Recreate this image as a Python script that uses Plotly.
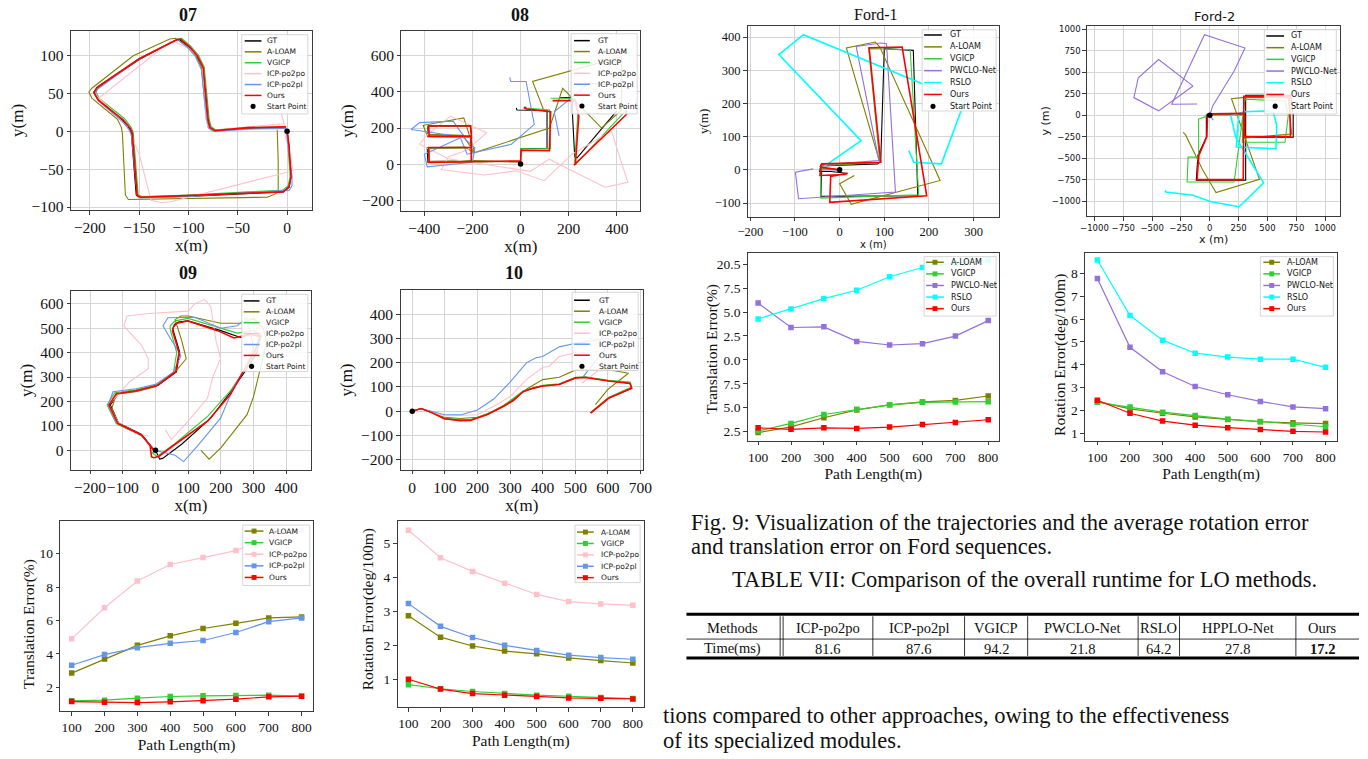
import plotly.graph_objects as go

W, H = 1368, 759
SERIF = "Liberation Serif"
SANS = "DejaVu Sans"

# ------------------------------------------------------------------ data
path_len = [100, 200, 300, 400, 500, 600, 700, 800]

# KITTI average errors
kitti_te_aloam = [2.85, 3.70, 4.51, 5.08, 5.52, 5.83, 6.15, 6.21]
kitti_te_vgicp = [1.19, 1.23, 1.35, 1.45, 1.49, 1.51, 1.53, 1.47]
kitti_te_po2po = [4.90, 6.76, 8.36, 9.35, 9.76, 10.18, 10.99, 11.42]
kitti_te_po2pl = [3.32, 3.96, 4.37, 4.63, 4.80, 5.28, 5.93, 6.15]
kitti_te_ours = [1.15, 1.11, 1.09, 1.13, 1.19, 1.29, 1.43, 1.47]

kitti_re_aloam = [2.87, 2.24, 1.98, 1.83, 1.75, 1.63, 1.55, 1.48]
kitti_re_vgicp = [0.84, 0.72, 0.64, 0.58, 0.53, 0.50, 0.46, 0.43]
kitti_re_po2po = [5.39, 4.58, 4.18, 3.83, 3.50, 3.29, 3.22, 3.18]
kitti_re_po2pl = [3.23, 2.56, 2.23, 2.00, 1.85, 1.71, 1.64, 1.59]
kitti_re_ours = [1.00, 0.71, 0.58, 0.53, 0.49, 0.45, 0.44, 0.42]

# Ford average errors
ford_te_aloam = [2.40, 3.00, 3.95, 4.77, 5.30, 5.60, 5.76, 6.22]
ford_te_vgicp = [2.56, 3.36, 4.29, 4.83, 5.30, 5.56, 5.60, 5.63]
ford_te_pwclo = [15.93, 13.38, 13.45, 11.93, 11.55, 11.69, 12.48, 14.10]
ford_te_rslo = [14.28, 15.31, 16.40, 17.27, 18.68, 19.65, 20.10, 20.40]
ford_te_ours = [2.90, 2.74, 2.90, 2.84, 2.98, 3.25, 3.46, 3.74]
ford_te_tickvals = [2.5, 5.0, 7.5, 10.0, 12.5, 15.0, 17.5, 20.0]
ford_te_ticktext = ["2.5", "5.0", "7.5", "0.0", "2.5", "5.0", "7.5", "20.5"]

ford_re_aloam = [2.40, 2.07, 1.88, 1.72, 1.61, 1.51, 1.46, 1.43]
ford_re_vgicp = [2.36, 2.16, 1.93, 1.78, 1.62, 1.52, 1.39, 1.29]
ford_re_pwclo = [7.78, 4.77, 3.70, 3.05, 2.69, 2.40, 2.16, 2.08]
ford_re_rslo = [8.59, 6.16, 5.08, 4.51, 4.34, 4.25, 4.25, 3.89]
ford_re_ours = [2.45, 1.88, 1.54, 1.36, 1.25, 1.17, 1.09, 1.06]

# trajectories (x, y) in metres
start_point = [(0, 0)]

seq07_gt = [(0, 0), (-2, 5), (-40, 4), (-74, 1), (-79, 6), (-81, 15), (-86, 84), (-92, 100), (-100, 112),
            (-109, 121), (-112, 121), (-150, 95), (-192, 58), (-196, 52), (-192, 42), (-167, 15), (-160, 4),
            (-158, -2), (-153, -84), (-150, -87), (-100, -86), (-40, -82), (-4, -80), (2, -74), (4, -60),
            (2, -20), (0, 0)]
seq07_aloam = [(-3, 6), (-40, 5), (-76, 1), (-80, 5), (-82, 16), (-87, 85), (-93, 101), (-102, 113),
               (-113, 123), (-119, 122), (-156, 100), (-198, 57), (-201, 52), (-198, 44), (-172, 16),
               (-168, 5), (-167, -3), (-164, -84), (-161, -90), (-100, -89), (-20, -87), (-11, -82),
               (-9, -78), (-9, -40), (-10, 2)]
seq07_vgicp = [(-1, 5), (-40, 5), (-72, 2), (-77, 6), (-79, 16), (-84, 85), (-90, 101), (-98, 113),
               (-107, 123), (-111, 122), (-149, 97), (-191, 60), (-194, 52), (-190, 43), (-165, 17),
               (-158, 5), (-156, -2), (-151, -84), (-147, -86), (-100, -84), (-40, -80), (-5, -78),
               (1, -72), (3, -60), (1, -20), (0, 3)]
seq07_po2po = [(-6, 24), (-3, 10), (-40, 6), (-76, 1), (-80, 5), (-82, 16), (-86, 85), (-90, 98),
               (-100, 110), (-113, 118), (-119, 118), (-191, 44), (-186, 38), (-162, 6), (-150, -30),
               (-138, -91), (-128, -94), (-118, -93), (6, -52), (5, -45), (2, -25), (-2, -5), (-3, 10)]
seq07_po2pl = [(-1, 4), (-40, 3), (-74, 0), (-79, 4), (-81, 14), (-87, 82), (-93, 99), (-101, 111),
               (-110, 120), (-114, 120), (-152, 94), (-192, 56), (-195, 49), (-191, 40), (-167, 13),
               (-160, 2), (-158, -4), (-152, -84), (-149, -88), (-100, -86), (-40, -81), (2, -78),
               (5, -72), (5, -60), (1, -20), (-1, 2)]
seq07_ours = [(-1, 6), (-40, 5), (-73, 1), (-78, 5), (-80, 15), (-85, 84), (-91, 100), (-99, 112),
              (-108, 122), (-112, 121), (-150, 96), (-193, 58), (-196, 51), (-191, 41), (-166, 15),
              (-159, 4), (-157, -2), (-152, -85), (-148, -87), (-100, -85), (-40, -82), (-4, -80),
              (2, -73), (4, -60), (2, -20), (0, 3)]

seq08_gt = [(-18, 312), (-15, 300), (110, 297), (110, 88), (2, 85), (0, 15), (-200, 14), (-385, 10),
            (-388, 90), (-208, 92), (-208, 150), (-385, 152), (-385, 210), (-208, 212), (-205, 170), None,
            (160, 368), (215, 370), (215, 297), (225, 40), (235, 35), (400, 295)]
seq08_aloam = [(0, 10), (-190, 20), (-380, 15), (-385, 90), (-230, 95), (-190, 60), (-240, 160),
               (-390, 165), (-405, 215), (-236, 256), (-190, 64), (120, 200), (175, 420), (337, 200),
               (420, 300), (419, 595), (50, 458), (98, 293), (110, 300)]
seq08_vgicp = [(20, 318), (25, 310), (120, 300), (125, 85), (0, 85), (0, 15), (-200, 14), (-380, 10),
               (-380, 88), (-205, 90), (-205, 150), (-380, 152), (-382, 210), (-208, 210), None,
               (125, 365), (225, 365), (238, 275), (225, 10), (230, 0), (430, 285), (440, 300)]
seq08_po2po = [(-420, 110), (-390, 160), (-291, 265), (-141, 174), (-220, 80), (-300, 40), (-330, -30),
               (-150, -60), (-18, -37), (98, -92), (214, 55), (378, 183), (400, 90), (446, -101),
               (351, -128), (119, 27), (40, -40), (-100, -10), (-300, 30), (-420, 110)]
seq08_po2pl = [(-45, 480), (-41, 458), (23, 458), (57, 220), (-38, 110), (-222, 55), (-250, 146),
               (-400, 55), (-388, -15), (-200, 10), (-190, 90), (-240, 150), (-455, 192), (-420, 230),
               (-280, 238), (-250, 180), (-230, 150), None, (160, 156), (140, 290), (228, 385),
               (283, 449), (364, 440)]
seq08_ours = [(20, 318), (16, 311), (25, 305), (125, 290), (120, 75), (2, 77), (0, 18), (-200, 14),
              (-380, 9), (-382, 92), (-205, 92), (-205, 155), (-380, 155), (-382, 212), (-208, 212),
              (-205, 170), (-205, 15), None, (133, 352), (228, 352), (242, 265), (228, 0), (222, -5),
              (440, 275), (440, 300)]

seq09_gt = [(0, 0), (13, -36), (22, -33), (80, 25), (169, 132), (230, 240), (280, 334), (310, 400),
            (320, 469), (300, 478), (260, 462), (200, 490), (99, 530), (70, 525), (58, 516), (53, 496),
            (74, 402), (64, 321), (8, 267), (-60, 245), (-113, 233), (-138, 186), (-113, 112), (-42, 65),
            (-2, -3)]
seq09_aloam = [(139, 0), (164, -36), (200, 10), (280, 146), (300, 220), (340, 442), (330, 500),
               (300, 540), (260, 520), (200, 520), (100, 550), (78, 550), (60, 535), (80, 450),
               (94, 375), (60, 320), (0, 260), (-60, 240), (-120, 230), (-133, 173), (-113, 105),
               (-42, 60), (-2, -2)]
seq09_vgicp = [(0, 0), (-10, -10), (5, -25), (60, 28), (160, 140), (230, 245), (280, 345), (310, 410),
               (325, 470), (300, 490), (250, 480), (200, 500), (100, 540), (60, 530), (45, 510),
               (45, 495), (65, 400), (55, 320), (0, 265), (-60, 248), (-125, 236), (-148, 185),
               (-120, 110), (-45, 63), (-3, 2)]
seq09_po2po = [(30, 85), (48, 44), (100, 120), (159, 213), (175, 300), (199, 375), (185, 450),
               (179, 510), (169, 590), (150, 617), (120, 600), (100, 570), (-20, 560), (-87, 550),
               (-97, 510), (-42, 429), (-22, 375), (-22, 334), (-80, 280), (-143, 186), (-113, 112),
               (-60, 70), (-22, 58), None, (270, 460), (320, 480), (330, 490)]
seq09_po2pl = [(0, 0), (60, -20), (86, -46), (130, 20), (199, 132), (240, 260), (280, 350), (300, 420),
               (279, 543), (250, 510), (200, 500), (120, 545), (38, 543), (23, 510), (40, 470),
               (78, 388), (55, 320), (0, 270), (-60, 252), (-130, 240), (-145, 185), (-120, 115),
               (-45, 65), (-3, 0)]
seq09_ours = [(-17, 24), (-12, -27), (-5, -30), (10, -25), (60, 25), (160, 120), (230, 230), (275, 340),
              (305, 410), (320, 465), (290, 475), (240, 460), (190, 490), (99, 530), (65, 520),
              (55, 505), (52, 490), (72, 400), (62, 322), (5, 265), (-60, 243), (-120, 232),
              (-142, 185), (-115, 110), (-42, 62), (-5, 0)]

seq10_gt = [(0, 0), (27, 11), (60, -5), (98, -30), (148, -38), (178, -37), (229, -14), (279, 20),
            (310, 45), (340, 81), (370, 95), (400, 105), (451, 111), (480, 125), (501, 138), (531, 140),
            (602, 125), (668, 115), (673, 95), (602, 54), (547, -7)]
seq10_aloam = [(0, 0), (27, 11), (98, -25), (148, -30), (200, -25), (250, 0), (300, 40), (350, 90),
               (400, 130), (451, 140), (501, 170), (600, 172), (663, 156), (600, 90), (562, 27)]
seq10_vgicp = [(0, 0), (27, 11), (98, -28), (148, -35), (178, -35), (229, -12), (279, 22), (340, 83),
               (400, 107), (451, 113), (501, 140), (531, 142), (602, 127), (668, 120), (673, 100),
               (602, 56), (547, -5)]
seq10_po2po = [(0, 0), (27, 11), (100, -20), (200, -15), (250, 20), (300, 60), (350, 130), (400, 180),
               (420, 185), (451, 225), (501, 240), (600, 250), (621, 262), (600, 200), (521, 115)]
seq10_po2pl = [(0, 0), (27, 11), (100, -15), (150, -15), (200, 5), (250, 50), (300, 120), (351, 200),
               (380, 220), (400, 225), (451, 265), (501, 280), (600, 300), (610, 290), (521, 136)]
seq10_ours = [(0, 0), (27, 11), (60, -6), (98, -31), (148, -39), (178, -38), (229, -15), (279, 19),
              (310, 44), (340, 80), (370, 94), (400, 104), (451, 110), (480, 124), (501, 137),
              (531, 139), (602, 124), (668, 114), (673, 94), (602, 53), (547, -8)]

ford1_gt = [(0, 0), (-40, 5), (-42, -80), (175, -78), (165, 360), (100, 365), (92, 25), (85, 18),
            (-42, 12), (-45, -5), (-20, -5), (15, -10)]
ford1_aloam = [(33, -17), (0, -42), (26, -104), (225, -32), (90, 370), (80, 385), (15, 367), (90, 22),
               (-40, 12), (-42, 0)]
ford1_vgicp = [(0, 0), (-42, 5), (-42, -85), (177, -75), (158, 362), (65, 365), (90, 22), (-42, 15),
               (-42, 5)]
ford1_pwclo = [(-59, 3), (-99, -7), (-92, -87), (125, -67), (105, 380), (92, 382), (37, 372), (88, 28),
               (-40, 15), (-45, 0), (0, 0)]
ford1_rslo = [(-37, 8), (48, 88), (-136, 347), (-100, 385), (-81, 407), (280, 207), (228, 18),
              (166, 23), (155, 58)]
ford1_ours = [(0, 0), (-42, 8), (-44, -17), (12, -14), (18, -10), (-20, -20), (-22, -98), (195, -78),
              (140, 370), (66, 368), (92, 23), (-40, 18), (-44, 8)]

ford2_gt = [(0, 0), (-30, 0), (-30, -258), (-103, -469), (-117, -758), (311, -758), (311, 231),
            (700, 231), (723, 0), (723, -258), (311, -258), (311, 10), (0, 10)]
ford2_aloam = [(-231, -200), (-210, -230), (-60, -642), (54, -900), (430, -746), (188, 192),
               (282, 204), (681, 204), (709, -219), (282, -269)]
ford2_vgicp = [(0, 0), (-97, -46), (-97, -488), (-188, -488), (-197, -777), (211, -777), (305, 185),
               (652, 165), (681, 0), (652, -315), (282, -315), (290, 0), (0, 0)]
ford2_pwclo = [(30, -60), (0, 0), (26, 110), (211, 512), (305, 781), (-46, 935), (-330, 127),
               (-160, 135), (-110, 130), None, (-145, 338), (-444, 646), (-620, 435), (-650, 260),
               (-658, 204), (-444, 50), (-145, 338)]
ford2_rslo = [(-387, -873), (-380, -895), (-145, -931), (11, -1008), (254, -1065), (467, -788),
              (225, -258), (182, -8), (300, 40), (500, 50), (553, 20), (581, -123), (573, -392),
              (300, -380), (230, -370), (250, 0)]
ford2_ours = [(10, 5), (-20, 8), (-25, -250), (-95, -470), (-110, -750), (290, -750), (295, 220),
              (690, 215), (700, -250), (300, -250), (300, 20), (10, 15)]

# runtime table
table_methods = ["ICP-po2po", "ICP-po2pl", "VGICP", "PWCLO-Net", "RSLO", "HPPLO-Net", "Ours"]
table_times = [81.6, 87.6, 94.2, 21.8, 64.2, 27.8, 17.2]

# ------------------------------------------------------------------ styles
COL = {"GT": "#000000", "A-LOAM": "#808000", "VGICP": "#32CD32", "ICP-po2po": "#FFC0CB",
       "ICP-po2pl": "#6495ED", "Ours": "#FF0000", "PWCLO-Net": "#9370DB", "RSLO": "#00FFFF"}


def X(px):
    return px / W


def Y(py):
    return 1 - py / H


fig = go.Figure()
shapes = []
annotations = []
layout_axes = {}


def ax_names(n):
    s = "" if n == 1 else str(n)
    return "x" + s, "y" + s, "xaxis" + s, "yaxis" + s


def make_axes(n, box, xr, yr, xt, yt, tickfont, grid, xtitle, ytitle, xtfont, ytfont,
              xstand=2, ystand=2, yticktext=None):
    xa, ya, xk, yk = ax_names(n)
    x0, x1, y0, y1 = box
    common = dict(showline=True, mirror=True, linecolor="#3a3a3a", linewidth=1, ticks="outside",
                  ticklen=3.5, tickwidth=0.8, tickcolor="#3a3a3a", zeroline=False, tickangle=0,
                  showgrid=grid, gridcolor="#d4d4d4", gridwidth=0.8, tickfont=tickfont,
                  fixedrange=True)
    layout_axes[xk] = dict(common, domain=[X(x0), X(x1)], anchor=ya, range=xr, tickmode="array",
                           tickvals=xt, title=dict(text=xtitle, font=xtfont, standoff=xstand))
    ydict = dict(common, domain=[Y(y1), Y(y0)], anchor=xa, range=yr, tickmode="array",
                 tickvals=yt, title=dict(text=ytitle, font=ytfont, standoff=ystand))
    if yticktext is not None:
        ydict["ticktext"] = yticktext
    layout_axes[yk] = ydict


def add_path(n, pts, color, width=1.1):
    xa, ya, _, _ = ax_names(n)
    xs = [p[0] if p is not None else None for p in pts]
    ys = [p[1] if p is not None else None for p in pts]
    fig.add_trace(go.Scatter(x=xs, y=ys, mode="lines", xaxis=xa, yaxis=ya, showlegend=False,
                             line=dict(color=color, width=width), hoverinfo="skip"))


def add_start(n):
    xa, ya, _, _ = ax_names(n)
    fig.add_trace(go.Scatter(x=[p[0] for p in start_point], y=[p[1] for p in start_point],
                             mode="markers", xaxis=xa, yaxis=ya, showlegend=False,
                             marker=dict(color="black", size=5.5), hoverinfo="skip"))


def add_err(n, ys, color):
    xa, ya, _, _ = ax_names(n)
    fig.add_trace(go.Scatter(x=path_len, y=ys, mode="lines+markers", xaxis=xa, yaxis=ya,
                             showlegend=False, line=dict(color=color, width=1.2),
                             marker=dict(color=color, size=5.5, symbol="square"), hoverinfo="skip"))


def add_legend(box, y_first, step, entries, sw, tx, fsize):
    x0, x1, y0, y1 = box
    shapes.append(dict(type="rect", xref="paper", yref="paper", x0=X(x0), x1=X(x1), y0=Y(y1), y1=Y(y0),
                       line=dict(color="#cccccc", width=0.8), fillcolor="rgba(255,255,255,0.85)",
                       layer="above"))
    for i, (name, kind) in enumerate(entries):
        yy = y_first + i * step
        color = COL.get(name, "#000000")
        if kind in ("line", "linesq"):
            shapes.append(dict(type="line", xref="paper", yref="paper", x0=X(sw[0]), x1=X(sw[1]),
                               y0=Y(yy), y1=Y(yy), line=dict(color=color, width=1.5), layer="above"))
        if kind == "linesq":
            cx = (sw[0] + sw[1]) / 2
            shapes.append(dict(type="rect", xref="paper", yref="paper", x0=X(cx - 2.5), x1=X(cx + 2.5),
                               y0=Y(yy + 2.5), y1=Y(yy - 2.5), line=dict(color=color, width=0),
                               fillcolor=color, layer="above"))
        if kind == "dot":
            cx = (sw[0] + sw[1]) / 2
            shapes.append(dict(type="circle", xref="paper", yref="paper", x0=X(cx - 2.6), x1=X(cx + 2.6),
                               y0=Y(yy + 2.6), y1=Y(yy - 2.6), line=dict(color="black", width=0),
                               fillcolor="black", layer="above"))
        annotations.append(dict(text=name, x=X(tx), y=Y(yy), xref="paper", yref="paper",
                                xanchor="left", yanchor="middle", showarrow=False,
                                font=dict(family=SANS, size=fsize, color="#111111")))


def title(text, cx, cy, font, angle=0):
    annotations.append(dict(text=text, x=X(cx), y=Y(cy), xref="paper", yref="paper", xanchor="center",
                            yanchor="middle", showarrow=False, font=font, textangle=angle))


tf_k = dict(family=SERIF, size=15.5, color="#111111")
lab_k = dict(family=SERIF, size=17, color="#111111")
tf_e = dict(family=SERIF, size=13.5, color="#111111")
lab_e = dict(family=SERIF, size=15.5, color="#111111")
ttl_k = dict(family=SERIF, size=18, color="#111111")

# ------------------------------------------------------------------ KITTI trajectories
kitti_sets = [
    (1, (62, 306, 29, 210), [-219, 25], [-104, 133], [-200, -150, -100, -50, 0], [-100, -50, 0, 50, 100],
     [seq07_gt, seq07_aloam, seq07_vgicp, seq07_po2po, seq07_po2pl, seq07_ours], "<b>07</b>", (180, 13)),
    (2, (397, 639, 29, 211), [-495, 497], [-260, 739], [-400, -200, 0, 200, 400], [-200, 0, 200, 400, 600],
     [seq08_gt, seq08_aloam, seq08_vgicp, seq08_po2po, seq08_po2pl, seq08_ours], "<b>08</b>", (517, 13)),
    (3, (62, 305, 292, 472), [-258, 475], [-79, 651], [-200, -100, 0, 100, 200, 300, 400],
     [0, 100, 200, 300, 400, 500, 600],
     [seq09_gt, seq09_aloam, seq09_vgicp, seq09_po2po, seq09_po2pl, seq09_ours], "<b>09</b>", (180, 274)),
    (4, (396, 642, 291, 472), [-36, 708], [-241, 498], [0, 100, 200, 300, 400, 500, 600, 700],
     [-200, -100, 0, 100, 200, 300, 400],
     [seq10_gt, seq10_aloam, seq10_vgicp, seq10_po2po, seq10_po2pl, seq10_ours], "<b>10</b>", (511, 274)),
]
kitti_names = ["GT", "A-LOAM", "VGICP", "ICP-po2po", "ICP-po2pl", "Ours"]
for n, box, xr, yr, xt, yt, paths, ttl, tpos in kitti_sets:
    make_axes(n, box, xr, yr, xt, yt, tf_k, True, "x(m)", "y(m)", lab_k, lab_k, 3, 3)
    for name, pts in zip(kitti_names, paths):
        add_path(n, pts, COL[name], 1.6 if name == "Ours" else 1.1)
    add_start(n)
    title(ttl, tpos[0], tpos[1], ttl_k)

kitti_leg = [(n, "line") for n in kitti_names] + [("Start Point", "dot")]
add_legend((235, 302, 33, 113), 39.3, 11, kitti_leg, (238, 255), 259, 7.5)
add_legend((569, 636, 32, 113), 39.0, 11, kitti_leg, (572, 588), 594, 7.5)
add_legend((235, 302, 295, 373), 301.7, 11, kitti_leg, (237, 253), 258, 7.5)
add_legend((570, 637, 293, 372), 301.0, 11.1, kitti_leg, (572, 588), 595, 7.5)

# ------------------------------------------------------------------ KITTI errors
make_axes(5, (51, 307, 524, 716), [65.3, 834], [0.56, 11.94], path_len, [2, 4, 6, 8, 10], tf_e, False,
          "Path Length(m)", "", lab_e, lab_e, 5, 3)
title("Translation Error(%)", 19, 628, lab_e, -90)
for name, ys in zip(["A-LOAM", "VGICP", "ICP-po2po", "ICP-po2pl", "Ours"],
                    [kitti_te_aloam, kitti_te_vgicp, kitti_te_po2po, kitti_te_po2pl, kitti_te_ours]):
    add_err(5, ys, COL[name])
make_axes(6, (393, 643, 524, 712), [66, 835], [0.17, 5.66], path_len, [1, 2, 3, 4, 5], tf_e, False,
          "Path Length(m)", "", lab_e, lab_e, 5, 3)
title("Rotation Error(deg/100m)", 363, 613, lab_e, -90)
for name, ys in zip(["A-LOAM", "VGICP", "ICP-po2po", "ICP-po2pl", "Ours"],
                    [kitti_re_aloam, kitti_re_vgicp, kitti_re_po2po, kitti_re_po2pl, kitti_re_ours]):
    add_err(6, ys, COL[name])
kerr_leg = [(n, "linesq") for n in ["A-LOAM", "VGICP", "ICP-po2po", "ICP-po2pl", "Ours"]]
add_legend((236, 304, 528, 589), 534, 11.7, kerr_leg, (238, 257), 261, 7.5)
add_legend((573, 639, 528, 586), 535, 11.5, kerr_leg, (575, 592), 597, 7.5)

# ------------------------------------------------------------------ Ford trajectories
ford_names = ["GT", "A-LOAM", "VGICP", "PWCLO-Net", "RSLO", "Ours"]
make_axes(7, (748, 1003, 24, 217), [-206, 357], [-142, 434], [-200, -100, 0, 100, 200, 300],
          [-100, 0, 100, 200, 300, 400], dict(family=SERIF, size=12.5, color="#111111"), True,
          "x (m)", "y(m)", dict(family=SANS, size=10, color="#111111"),
          dict(family=SERIF, size=13, color="#111111"), 0, 3)
for name, pts in zip(ford_names, [ford1_gt, ford1_aloam, ford1_vgicp, ford1_pwclo, ford1_rslo, ford1_ours]):
    add_path(7, pts, COL[name], 1.6 if name in ("Ours", "RSLO") else 1.1)
add_start(7)
title("Ford-1", 878, 13, dict(family=SERIF, size=16, color="#111111"))

f2t = [-1000, -750, -500, -250, 0, 250, 500, 750, 1000]
make_axes(8, (1092, 1349, 24, 216), [-1066, 1131], [-1173, 1039], f2t, f2t,
          dict(family=SANS, size=8.5, color="#111111"), True, "x (m)", "y (m)",
          dict(family=SANS, size=11, color="#111111"), dict(family=SANS, size=11, color="#111111"), 2, 0)
for name, pts in zip(ford_names, [ford2_gt, ford2_aloam, ford2_vgicp, ford2_pwclo, ford2_rslo, ford2_ours]):
    add_path(8, pts, COL[name], 1.6 if name in ("Ours", "RSLO") else 1.1)
add_start(8)
title("Ford-2", 1221, 15, dict(family=SANS, size=13, color="#111111"))

ford_leg = [(n, "line") for n in ford_names] + [("Start Point", "dot")]
add_legend((925, 1000, 28, 110), 33.3, 12, ford_leg, (927, 945), 951, 8)
add_legend((1272, 1345, 28, 113), 34.3, 11.8, ford_leg, (1274, 1292), 1297, 8)

# ------------------------------------------------------------------ Ford errors
make_axes(9, (748, 1003, 253, 443), [68, 833], [1.53, 21.2], path_len, ford_te_tickvals, tf_e, False,
          "Path Length(m)", "", lab_e, lab_e, 4, 3, yticktext=ford_te_ticktext)
title("Translation Error(%)", 712, 350, lab_e, -90)
for name, ys in zip(["A-LOAM", "VGICP", "PWCLO-Net", "RSLO", "Ours"],
                    [ford_te_aloam, ford_te_vgicp, ford_te_pwclo, ford_te_rslo, ford_te_ours]):
    add_err(9, ys, COL[name])
make_axes(10, (1090, 1346, 253, 443), [61.6, 836], [0.67, 8.91], path_len, [1, 2, 3, 4, 5, 6, 7, 8], tf_e,
          False, "Path Length(m)", "", lab_e, lab_e, 4, 3)
title("Rotation Error(deg/100m)", 1064, 356, lab_e, -90)
for name, ys in zip(["A-LOAM", "VGICP", "PWCLO-Net", "RSLO", "Ours"],
                    [ford_re_aloam, ford_re_vgicp, ford_re_pwclo, ford_re_rslo, ford_re_ours]):
    add_err(10, ys, COL[name])
ferr_leg = [(n, "linesq") for n in ["A-LOAM", "VGICP", "PWCLO-Net", "RSLO", "Ours"]]
add_legend((927, 1000, 257, 317), 262.7, 11.7, ferr_leg, (929, 947), 952, 8)
add_legend((1268, 1342, 257, 317), 262.7, 11.7, ferr_leg, (1271, 1288), 1293, 8)

# ------------------------------------------------------------------ caption, table, body text
body = dict(family=SERIF, size=22.5, color="#111111")
annotations.append(dict(text="Fig. 9: Visualization of the trajectories and the average rotation error",
                        x=X(689), y=Y(525), xref="paper", yref="paper", xanchor="left", yanchor="middle",
                        showarrow=False, font=body))
annotations.append(dict(text="and translation error on Ford sequences.", x=X(689), y=Y(550), xref="paper",
                        yref="paper", xanchor="left", yanchor="middle", showarrow=False, font=body))
annotations.append(dict(text="TABLE VII: Comparison of the overall runtime for LO methods.", x=X(1029),
                        y=Y(583), xref="paper", yref="paper", xanchor="center", yanchor="middle",
                        showarrow=False, font=body))
annotations.append(dict(text="tions compared to other approaches, owing to the effectiveness", x=X(660),
                        y=Y(720), xref="paper", yref="paper", xanchor="left", yanchor="middle",
                        showarrow=False, font=body))
annotations.append(dict(text="of its specialized modules.", x=X(660), y=Y(745), xref="paper", yref="paper",
                        xanchor="left", yanchor="middle", showarrow=False, font=body))

tbl_font = dict(family=SERIF, size=14.5, color="#111111")
col_edges = [686, 781, 875, 968, 1032, 1144, 1186, 1304, 1368]
for yv, wv in [(618, 3), (643, 0.8), (662, 3)]:
    shapes.append(dict(type="line", xref="paper", yref="paper", x0=X(686), x1=X(1368), y0=Y(yv), y1=Y(yv),
                       line=dict(color="black", width=wv)))
for xe in col_edges[1:-1]:
    shapes.append(dict(type="line", xref="paper", yref="paper", x0=X(xe), x1=X(xe), y0=Y(620), y1=Y(660),
                       line=dict(color="black", width=0.8)))
shapes.append(dict(type="line", xref="paper", yref="paper", x0=X(784), x1=X(784), y0=Y(620), y1=Y(660),
                   line=dict(color="black", width=0.8)))
centers = [733] + [(col_edges[i] + col_edges[i + 1]) / 2 + (1.5 if i == 1 else 0) for i in range(1, 8)]
centers[-1] = 1331
header = ["Methods"] + table_methods
row = ["Time(ms)"] + ["<b>%.1f</b>" % v if m == "Ours" else "%.1f" % v
                      for m, v in zip(table_methods, table_times)]
for cx, h, r in zip(centers, header, row):
    annotations.append(dict(text=h, x=X(cx), y=Y(632), xref="paper", yref="paper", xanchor="center",
                            yanchor="middle", showarrow=False, font=tbl_font))
    annotations.append(dict(text=r, x=X(cx), y=Y(653), xref="paper", yref="paper", xanchor="center",
                            yanchor="middle", showarrow=False, font=tbl_font))

fig.update_layout(width=W, height=H, margin=dict(l=0, r=0, t=0, b=0), autosize=False,
                  paper_bgcolor="white", plot_bgcolor="white", showlegend=False,
                  shapes=shapes, annotations=annotations, **layout_axes)
fig.write_html("out.html", config={"displayModeBar": False},
               post_script="document.body.style.margin='0px';document.body.style.padding='0px';"
                           "document.body.style.overflow='hidden';")
